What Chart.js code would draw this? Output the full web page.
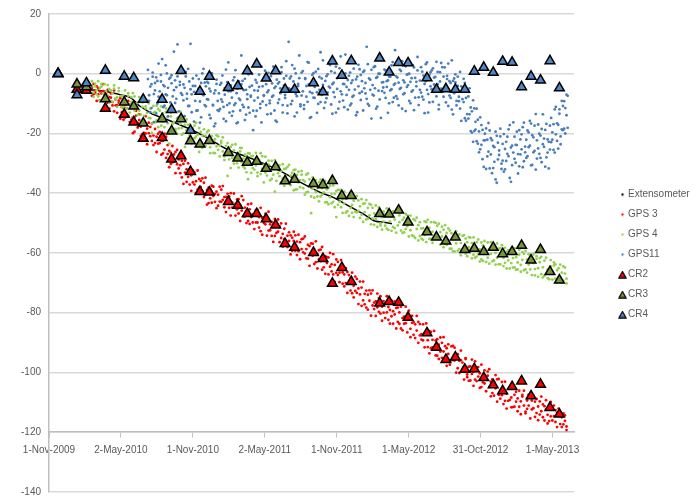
<!DOCTYPE html>
<html>
<head>
<meta charset="utf-8">
<script src="https://cdn.jsdelivr.net/npm/chart.js@4.4.1/dist/chart.umd.min.js"></script>
<style>
html,body{margin:0;padding:0;background:#ffffff;}
#wrap{width:699px;height:499px;position:relative;}
</style>
</head>
<body>
<div id="wrap"><canvas id="c" width="699" height="499"></canvas></div>
<script>
// x values are days counted from 1-Nov-2009
const xTickDays = [0, 182.5, 365, 547.5, 730, 912.5, 1095, 1277.5];
const xTickLabels = ['1-Nov-2009','2-May-2010','1-Nov-2010','2-May-2011','1-Nov-2011','1-May-2012','31-Oct-2012','1-May-2013'];

const seriesNames = ['Extensometer','GPS 3','GPS 4','GPS11','CR2','CR3','CR4'];

// Extensometer
const extDays = [104,129,155,180,205,218,230,245,264,299,350,401,452,518,586,637,688,721,764,797,827,853,870];
const extVals = [-5.4,-5.6,-6.2,-7.0,-7.9,-9.2,-10.8,-12.0,-13.6,-15.3,-18.1,-21.4,-25.3,-28.6,-32.5,-36.3,-39.7,-41.4,-44.5,-46.9,-49.3,-49.8,-50.2];

// GPS 3 and GPS 4 sample days
const gpsDays = [
109,113,117,121,125,129,133,137,141,145,
149,153,157,161,165,169,173,177,181,185,
189,193,197,201,205,209,213,217,221,225,
229,233,237,241,245,249,253,257,261,265,
269,273,277,281,285,289,293,297,301,305,
309,313,317,321,325,329,333,337,341,345,
349,353,357,361,365,369,373,377,381,385,
389,393,397,401,405,409,413,417,421,425,
429,433,437,441,445,449,453,457,461,465,
469,473,477,481,485,489,493,497,501,505,
509,513,517,521,525,529,533,537,541,545,
549,553,557,561,565,569,573,577,581,585,
589,593,597,601,605,609,613,617,621,625,
629,633,637,641,645,649,653,657,661,665,
669,673,677,681,685,689,693,697,701,705,
709,713,717,721,725,729,733,737,741,745,
749,753,757,761,765,769,773,777,781,785,
789,793,797,801,805,809,813,817,821,825,
829,833,837,841,845,849,853,857,861,865,
869,873,877,881,885,889,893,897,901,905,
909,913,917,921,925,929,933,937,941,945,
949,953,957,961,965,969,973,977,981,985,
989,993,997,1001,1005,1009,1013,1017,1021,1025,
1029,1033,1037,1041,1045,1049,1053,1057,1061,1065,
1069,1073,1077,1081,1085,1089,1093,1097,1101,1105,
1109,1113,1117,1121,1125,1129,1133,1137,1141,1145,
1149,1153,1157,1161,1165,1169,1173,1177,1181,1185,
1189,1193,1197,1201,1205,1209,1213,1217,1221,1225,
1229,1233,1237,1241,1245,1249,1253,1257,1261,1265,
1269,1273,1277,1281,1285,1289,1293,1297,1301,1305,
1309,1313];

// GPS 3, two readings per sample day
const gps3Vals = [
-4.7,-6.9,-5.6,-4.2,-6.9,-8.9,-6.6,-5.8,-8.0,-6.9,
-9.7,-7.8,-6.6,-9.5,-12.6,-8.6,-10.5,-9.7,-8.2,-12.9,
-11.4,-14.7,-11.5,-14.1,-10.2,-15.4,-14.6,-19.4,-14.0,-16.5,
-15.5,-17.7,-20.2,-16.0,-20.0,-18.4,-16.4,-20.9,-22.5,-20.7,
-23.2,-21.1,-20.1,-23.2,-27.1,-22.5,-25.4,-21.1,-26.9,-25.8,
-26.4,-29.7,-27.0,-26.2,-30.3,-31.7,-30.6,-34.7,-30.2,-33.1,
-32.0,-34.5,-37.1,-34.0,-32.4,-37.1,-36.0,-38.8,-35.2,-38.0,
-39.2,-36.5,-40.5,-38.9,-43.3,-38.8,-37.5,-40.9,-42.9,-39.5,
-40.5,-42.8,-38.8,-42.2,-44.7,-41.2,-43.4,-41.1,-47.5,-43.2,
-44.9,-43.6,-42.1,-46.8,-44.2,-45.8,-42.3,-47.8,-46.3,-49.3,
-45.4,-48.0,-49.8,-47.5,-45.7,-49.8,-48.0,-52.7,-48.3,-49.9,
-50.4,-48.4,-52.5,-50.4,-54.3,-50.5,-48.6,-53.3,-52.9,-51.1,
-55.0,-53.6,-51.9,-56.9,-54.2,-56.0,-54.1,-59.3,-56.0,-54.1,
-56.2,-59.4,-56.4,-58.7,-55.2,-60.2,-58.7,-61.9,-57.7,-60.1,
-60.9,-58.9,-63.1,-60.4,-59.1,-62.7,-65.6,-61.3,-61.1,-63.4,
-61.5,-64.6,-63.8,-67.2,-64.0,-62.2,-67.4,-66.6,-64.9,-70.3,
-67.2,-70.1,-66.4,-69.9,-68.6,-73.5,-71.0,-67.9,-73.4,-71.9,
-73.9,-71.6,-75.9,-73.7,-78.3,-74.0,-76.0,-73.6,-77.6,-76.6,
-76.2,-78.2,-75.1,-80.3,-78.0,-80.0,-76.9,-79.9,-82.4,-79.1,
-81.2,-79.5,-80.6,-78.4,-83.1,-79.9,-85.3,-81.8,-81.3,-83.5,
-82.4,-81.1,-85.4,-83.4,-87.4,-83.9,-86.0,-83.1,-87.6,-87.2,
-89.3,-87.4,-86.5,-89.2,-86.2,-91.9,-89.1,-91.5,-89.3,-94.4,
-90.7,-93.0,-90.1,-93.0,-95.7,-91.9,-93.8,-96.1,-91.3,-95.8,
-96.0,-94.1,-98.6,-96.1,-95.9,-98.9,-98.0,-95.5,-101.6,-98.1,
-98.0,-100.5,-99.8,-102.4,-98.2,-101.4,-100.3,-104.9,-101.4,-103.7,
-102.3,-101.1,-104.9,-103.1,-106.9,-103.1,-105.3,-102.3,-107.5,-106.0,
-107.6,-105.8,-109.5,-107.1,-105.5,-109.2,-108.4,-111.6,-107.5,-109.8,
-108.7,-111.5,-109.7,-108.1,-111.1,-113.1,-109.4,-111.1,-108.5,-112.4,
-112.0,-109.8,-113.6,-111.4,-109.7,-113.0,-115.0,-111.3,-112.4,-114.2,
-112.2,-114.7,-111.9,-114.6,-116.6,-113.5,-114.7,-117.3,-115.0,-117.4,
-116.2,-118.1];
const gps3ValsB = [
-7.4,-3.4,-6.3,-9.1,-4.8,-5.9,-8.9,-3.5,-6.2,-8.6,
-5.4,-11.7,-8.0,-10.6,-5.6,-10.6,-13.1,-9.0,-15.1,-11.2,
-15.4,-10.5,-13.5,-9.1,-16.2,-11.5,-19.9,-14.5,-12.4,-18.0,
-13.6,-20.8,-16.6,-19.8,-14.2,-23.6,-19.9,-17.8,-16.7,-23.9,
-18.5,-26.2,-23.4,-19.5,-22.4,-26.7,-20.1,-28.2,-23.9,-31.3,
-30.2,-24.2,-29.4,-33.3,-25.5,-28.7,-33.3,-29.1,-36.9,-29.1,
-36.2,-30.0,-32.8,-39.2,-36.4,-33.0,-40.0,-32.4,-38.1,-35.9,
-35.0,-41.3,-34.8,-43.8,-38.1,-41.7,-43.2,-37.8,-40.2,-45.0,
-44.2,-37.8,-42.9,-37.6,-41.3,-46.3,-40.2,-44.9,-40.0,-44.8,
-40.1,-47.5,-45.4,-42.0,-49.3,-41.0,-47.8,-44.8,-50.0,-43.7,
-50.3,-43.5,-47.0,-52.0,-49.8,-45.6,-51.5,-44.9,-53.9,-48.0,
-46.9,-54.2,-46.2,-52.4,-49.6,-56.3,-54.3,-49.9,-48.8,-56.4,
-50.1,-57.9,-55.4,-50.2,-58.0,-53.1,-60.5,-54.9,-52.9,-59.3,
-60.7,-53.9,-62.1,-55.4,-59.8,-54.5,-61.8,-57.3,-64.3,-56.8,
-56.9,-63.7,-56.1,-65.2,-62.1,-58.9,-58.0,-64.8,-67.0,-61.4,
-67.2,-60.0,-66.2,-60.4,-69.7,-66.7,-63.0,-69.8,-62.4,-66.5,
-71.2,-65.1,-73.4,-67.4,-72.6,-66.6,-74.9,-72.7,-68.7,-77.1,
-69.6,-77.7,-69.6,-77.2,-72.6,-79.0,-72.5,-81.0,-72.5,-78.8,
-81.1,-73.6,-79.7,-74.5,-82.7,-76.1,-81.8,-74.5,-78.1,-83.7,
-76.0,-83.7,-76.2,-85.3,-78.3,-83.7,-78.0,-85.9,-83.7,-78.0,
-86.6,-79.3,-88.2,-81.1,-83.2,-88.5,-81.1,-90.1,-83.8,-89.0,
-83.9,-91.6,-83.6,-91.5,-93.6,-86.4,-91.6,-86.1,-94.3,-88.9,
-95.5,-88.3,-95.1,-88.2,-91.2,-97.8,-90.6,-97.4,-95.9,-91.1,
-91.7,-100.1,-93.9,-100.2,-92.7,-96.7,-102.4,-95.2,-100.7,-102.8,
-102.7,-95.7,-104.5,-96.3,-102.9,-98.2,-105.2,-97.4,-103.3,-99.3,
-106.3,-99.7,-98.9,-108.0,-102.3,-107.8,-100.9,-109.8,-102.2,-108.8,
-103.2,-110.6,-103.1,-112.1,-109.5,-104.9,-111.7,-104.4,-111.5,-106.5,
-113.0,-106.1,-114.0,-107.5,-106.1,-113.7,-112.2,-107.4,-115.4,-109.4,
-107.8,-114.9,-108.9,-116.0,-114.1,-108.1,-110.7,-116.1,-109.3,-117.1,
-116.3,-109.9,-116.1,-111.1,-112.6,-118.3,-112.1,-114.2,-118.3,-113.7,
-114.4,-119.3];

// GPS 4, two readings per sample day
const gps4Vals = [
-4.1,-6.2,-3.3,-5.5,-7.6,-4.7,-3.4,-6.7,-7.7,-6.0,
-7.3,-5.1,-9.2,-6.6,-5.0,-8.5,-7.9,-4.8,-9.9,-7.5,
-7.3,-9.0,-11.6,-7.4,-10.3,-9.4,-14.5,-7.6,-11.6,-9.8,
-12.3,-9.2,-11.1,-14.1,-10.9,-13.1,-9.9,-14.9,-19.8,-13.1,
-12.8,-15.6,-11.8,-14.8,-17.4,-13.3,-14.9,-11.6,-16.6,-23.4,
-14.3,-16.9,-16.1,-19.2,-14.9,-18.3,-12.7,-18.2,-20.0,-17.1,
-18.9,-17.1,-20.6,-18.7,-22.9,-17.4,-21.1,-20.4,-26.2,-19.5,
-20.7,-23.7,-20.8,-19.5,-23.2,-24.6,-22.8,-26.5,-21.9,-24.3,
-25.5,-24.1,-22.5,-26.0,-27.7,-24.2,-34.2,-26.0,-24.5,-28.2,
-25.7,-27.8,-30.0,-26.9,-24.8,-29.6,-28.4,-31.7,-27.5,-35.3,
-29.3,-27.7,-31.6,-29.3,-30.7,-33.1,-28.9,-26.6,-31.9,-30.5,
-33.1,-31.0,-29.1,-32.5,-35.2,-31.2,-39.5,-31.8,-30.6,-34.3,
-32.6,-35.0,-31.9,-34.2,-31.2,-36.7,-34.1,-35.8,-32.3,-38.8,
-33.9,-36.4,-35.7,-33.8,-38.3,-36.1,-39.7,-33.4,-37.8,-46.7,
-38.5,-36.4,-39.6,-38.2,-36.3,-41.1,-38.3,-39.7,-43.1,-38.7,
-38.1,-41.4,-40.2,-42.9,-40.2,-48.0,-38.9,-42.8,-44.7,-42.0,
-43.5,-41.9,-46.0,-41.0,-44.9,-43.9,-42.5,-46.2,-40.9,-45.9,
-44.4,-47.2,-43.6,-46.3,-48.8,-44.9,-47.4,-43.9,-48.5,-46.8,
-48.7,-46.9,-45.5,-50.1,-48.0,-49.5,-47.1,-51.9,-46.0,-49.5,
-47.7,-51.3,-48.8,-46.2,-50.8,-49.7,-52.5,-48.9,-48.2,-52.0,
-51.1,-48.9,-52.4,-50.5,-54.4,-49.1,-52.0,-50.7,-54.3,-51.8,
-51.7,-54.0,-49.7,-53.3,-51.6,-55.3,-52.9,-49.7,-54.4,-53.8,
-55.4,-53.0,-54.5,-52.2,-56.8,-53.3,-55.7,-52.5,-58.6,-55.4,
-54.9,-56.8,-54.2,-58.7,-56.7,-54.3,-58.8,-60.3,-56.4,-58.1,
-59.1,-56.7,-60.6,-58.1,-56.4,-60.2,-58.8,-62.2,-57.5,-60.1,
-58.9,-61.6,-58.7,-60.3,-57.4,-62.5,-60.0,-61.6,-58.6,-63.8,
-59.8,-61.6,-63.3,-59.6,-62.5,-59.1,-63.4,-61.7,-64.8,-61.4,
-63.2,-60.6,-64.0,-62.3,-60.3,-65.5,-62.2,-63.9,-65.5,-62.1,
-63.4,-65.4,-62.0,-65.1,-63.1,-67.1,-64.8,-62.6,-67.0,-65.6,
-66.7,-64.5,-66.3,-64.2,-68.6,-65.8,-65.1,-68.4,-66.6,-69.3,
-66.9,-68.6];
const gps4ValsB = [
-2.5,-7.7,-4.2,-6.9,-2.5,-9.0,-4.3,-6.6,-3.5,-8.6,
-3.8,-9.7,-5.6,-9.4,-3.9,-8.2,-11.1,-5.8,-7.5,-11.1,
-11.3,-5.6,-10.3,-6.5,-13.0,-7.8,-6.5,-12.3,-9.9,-13.8,
-7.8,-13.7,-9.6,-15.6,-11.6,-9.0,-14.8,-11.7,-16.6,-10.8,
-16.3,-10.7,-17.9,-12.4,-10.9,-16.0,-17.9,-12.8,-14.4,-19.0,
-13.0,-19.6,-12.6,-18.5,-20.1,-15.1,-16.8,-20.4,-14.6,-24.5,
-15.3,-21.6,-17.0,-23.3,-18.3,-21.6,-16.5,-23.7,-18.2,-23.1,
-24.8,-18.6,-24.2,-23.1,-19.0,-26.6,-20.9,-22.5,-26.6,-20.6,
-21.0,-27.7,-23.2,-21.3,-28.9,-26.8,-23.2,-28.7,-31.6,-23.8,
-30.1,-23.6,-28.5,-31.4,-26.0,-24.9,-31.1,-27.1,-33.0,-26.6,
-26.7,-33.2,-27.5,-32.1,-26.5,-34.3,-29.7,-33.6,-27.6,-36.4,
-27.8,-34.1,-30.4,-35.7,-29.2,-33.8,-28.9,-35.9,-33.3,-30.7,
-36.4,-30.3,-37.5,-31.8,-35.4,-30.5,-37.3,-33.2,-39.0,-32.1,
-38.7,-32.8,-38.0,-32.6,-35.6,-40.5,-33.8,-39.6,-35.4,-41.1,
-34.7,-41.5,-35.6,-41.1,-42.7,-35.5,-40.5,-36.6,-35.9,-43.0,
-43.7,-37.5,-43.4,-37.4,-44.7,-39.3,-43.9,-38.9,-41.3,-46.6,
-39.5,-46.5,-41.5,-47.6,-40.6,-46.6,-48.0,-41.6,-46.4,-42.4,
-48.3,-42.0,-49.6,-43.4,-42.3,-48.5,-43.6,-50.4,-44.9,-50.6,
-44.1,-51.3,-44.7,-50.8,-52.2,-46.1,-50.9,-45.1,-52.3,-46.2,
-52.6,-46.1,-51.7,-53.2,-45.9,-47.4,-46.4,-53.3,-53.1,-46.9,
-47.4,-54.5,-47.5,-54.1,-48.7,-55.0,-48.2,-55.8,-49.7,-55.2,
-55.6,-49.4,-56.4,-48.9,-55.3,-49.7,-56.6,-55.2,-49.9,-50.9,
-50.2,-57.2,-51.2,-58.1,-50.7,-57.3,-51.8,-58.6,-53.4,-59.5,
-59.5,-52.8,-59.3,-53.8,-60.8,-59.3,-54.0,-55.2,-61.1,-54.7,
-54.9,-61.8,-54.8,-61.6,-61.2,-55.5,-62.9,-56.5,-62.7,-56.0,
-63.0,-56.5,-63.6,-56.4,-62.8,-57.4,-63.9,-56.8,-63.8,-58.4,
-57.4,-64.4,-58.3,-65.2,-59.1,-65.2,-58.5,-64.9,-58.4,-65.6,
-65.5,-59.0,-66.3,-59.7,-65.8,-59.3,-66.6,-60.4,-61.2,-67.4,
-60.5,-67.5,-61.1,-68.0,-61.7,-61.3,-68.2,-67.6,-61.6,-68.4,
-68.8,-62.4,-68.9,-63.2,-63.8,-69.9,-69.3,-63.9,-70.0,-64.5,
-64.9,-70.2];

// GPS11 sample days
const gps11Days = [
251,254,257,260,263,266,269,272,275,278,
281,284,287,290,293,296,299,302,305,308,
311,314,317,320,323,326,329,332,335,338,
341,344,347,350,353,356,359,362,365,368,
371,374,377,380,383,386,389,392,395,398,
401,404,407,410,413,416,419,422,425,428,
431,434,437,440,443,446,449,452,455,458,
461,464,467,470,473,476,479,482,485,488,
491,494,497,500,503,506,509,512,515,518,
521,524,527,530,533,536,539,542,545,548,
551,554,557,560,563,566,569,572,575,578,
581,584,587,590,593,596,599,602,605,608,
611,614,617,620,623,626,629,632,635,638,
641,644,647,650,653,656,659,662,665,668,
671,674,677,680,683,686,689,692,695,698,
701,704,707,710,713,716,719,722,725,728,
731,734,737,740,743,746,749,752,755,758,
761,764,767,770,773,776,779,782,785,788,
791,794,797,800,803,806,809,812,815,818,
821,824,827,830,833,836,839,842,845,848,
851,854,857,860,863,866,869,872,875,878,
881,884,887,890,893,896,899,902,905,908,
911,914,917,920,923,926,929,932,935,938,
941,944,947,950,953,956,959,962,965,968,
971,974,977,980,983,986,989,992,995,998,
1001,1004,1007,1010,1013,1016,1019,1022,1025,1028,
1031,1034,1037,1040,1043,1046,1049,1052,1055,1058,
1061,1064,1067,1070,1073,1076,1079,1082,1085,1088,
1091,1094,1097,1100,1103,1106,1109,1112,1115,1118,
1121,1124,1127,1130,1133,1136,1139,1142,1145,1148,
1151,1154,1157,1160,1163,1166,1169,1172,1175,1178,
1181,1184,1187,1190,1193,1196,1199,1202,1205,1208,
1211,1214,1217,1220,1223,1226,1229,1232,1235,1238,
1241,1244,1247,1250,1253,1256,1259,1262,1265,1268,
1271,1274,1277,1280,1283,1286,1289,1292,1295,1298,
1301,1304,1307,1310,1313,1316];

// GPS11, two readings per sample day
const gps11Vals = [
-1.8,-9.1,-4.3,-11.5,0.4,-6.8,-3.1,-13.3,-2.4,-7.7,
-5.9,-0.4,-8.3,-3.8,-10.7,2.8,-7.2,-4.7,-12.1,-1.3,
-3.2,-7.6,7.4,-9.8,-4.5,-0.9,-14.6,-2.7,-6.5,0.9,
-8.9,-4.7,0.6,-6.7,-10.8,-2.6,10.0,-12.9,-4.1,-6.1,
-4.1,-12.4,-6.3,-1.8,-9.3,-14.6,0.1,-7.2,-3.0,-10.9,
-8.5,-3.1,-13.8,-5.9,0.2,-10.6,-6.6,-16.7,-2.0,-9.1,
-6.6,-11.8,-3.1,-9.4,-15.1,-4.8,1.4,-10.5,-5.9,-13.0,
-3.9,-8.0,-12.6,-1.2,-9.9,-6.5,-16.3,-2.6,-8.8,6.1,
-10.4,-5.5,-1.7,-13.7,-6.9,-11.3,-4.4,-7.7,0.0,-12.4,
-5.6,-14.3,-3.0,-8.0,-4.4,-11.5,2.4,-9.3,-7.4,-1.4,
-10.5,-6.2,0.3,-9.0,-13.4,-3.2,-7.3,-4.8,-15.7,-2.0,
-3.3,-8.6,-4.9,2.2,-10.5,-4.0,-7.1,-0.7,-13.3,10.7,
-5.2,-0.9,-9.1,-2.6,1.7,-6.8,-13.0,-4.1,-1.5,-10.3,
0.4,-5.9,-10.5,-1.8,-7.7,3.9,-3.6,-14.8,-3.2,-6.5,
-8.0,-4.4,0.7,-6.2,-10.1,-1.1,7.2,-7.1,-3.7,-11.5,
-2.4,-8.2,-0.2,-4.3,2.9,-10.3,-3.5,-6.2,0.3,-13.0,
-5.1,-1.2,-9.4,5.8,-6.9,-3.4,-11.2,0.1,-4.4,-2.1,
-0.7,-10.6,-3.1,-7.7,1.7,-5.3,-1.9,-12.9,3.0,-6.5,
-8.8,-2.5,0.6,-4.9,-6.6,9.0,-10.1,-1.6,-5.4,1.3,
-3.8,-7.3,2.5,-11.7,-1.1,-5.7,0.0,-14.8,-2.9,-4.6,
-6.4,1.1,-4.4,-2.2,-9.9,-1.0,-5.2,3.9,-8.0,-3.3,
-0.9,-8.4,-3.0,-5.1,0.9,-11.7,-2.2,-6.5,2.5,-4.4,
-3.8,0.0,-9.9,-1.5,-5.6,2.1,-8.0,-2.7,5.6,-10.5,
-2.3,-6.3,0.7,-8.7,-3.4,3.2,-5.4,-13.0,-0.4,-4.2,
-5.2,1.8,-3.6,-1.1,-7.6,0.6,-10.4,-2.6,3.6,-6.1,
-1.0,-5.4,-9.6,-1.8,3.4,-7.3,-3.1,-12.0,-2.4,-6.5,
-2.9,-9.1,-1.0,-7.7,-11.7,-4.2,-8.5,-1.7,-14.9,-8.1,
-13.5,-7.6,-13.6,-11.3,-19.7,-8.9,-19.2,-16.1,-22.6,-15.4,
-19.3,-25.3,-17.2,-28.6,-22.3,-20.1,-31.9,-22.1,-26.1,-19.0,
-27.0,-22.3,-31.6,-24.6,-35.4,-20.8,-28.7,-25.7,-18.4,-30.1,
-23.5,-32.8,-25.2,-29.2,-21.1,-27.6,-17.2,-36.2,-24.1,-26.4,
-28.5,-23.8,-19.4,-26.9,-31.0,-22.0,-25.3,-17.9,-29.3,-24.4,
-22.1,-27.6,-19.6,-24.1,-16.7,-30.5,-21.3,-25.8,-13.5,-28.4,
-25.0,-20.1,-28.2,-18.5,-23.6,-21.7,-31.1,-16.8,-26.4,-22.8,
-17.4,-22.9,-19.6,-25.5,-11.9,-20.3,-16.6,-25.1,-13.4,-21.0,
-18.6,-10.8,-18.4,-11.5,-7.0,-18.1];
const gps11ValsB = [
1.3,-7.2,-12.9,-3.5,-1.0,-16.2,-5.6,-1.2,-10.0,3.4,
-8.9,-2.6,4.9,-11.2,-4.2,-6.9,0.1,-14.3,-1.7,-9.6,
-0.5,-11.9,-5.5,-2.2,-8.4,9.8,-12.6,-3.8,0.6,-7.1,
-3.6,-14.2,-0.9,-8.4,1.6,-10.8,-5.2,-6.9,-1.6,-16.0,
-9.1,-0.6,-12.3,-4.9,-16.4,-3.1,-6.9,1.6,-10.5,-4.2,
-2.7,-8.7,-5.0,-14.9,-0.5,-10.4,-17.6,-5.6,-3.4,-12.2,
-12.5,-3.7,-8.6,-0.6,-11.1,-7.0,-15.9,-2.8,3.8,-9.9,
-5.9,-14.1,-2.2,-10.5,1.2,-16.6,-5.0,-8.3,-12.3,-3.6,
-2.4,-11.2,-15.5,-5.4,-8.5,-0.2,-13.1,-7.3,-4.0,-18.9,
-9.0,-2.1,-12.4,-5.7,-0.3,-10.1,-16.3,-4.2,-7.2,1.0,
-3.5,-13.6,-5.6,-9.9,-0.8,-7.7,2.4,-12.3,-4.3,-16.1,
-9.8,-2.8,-6.5,0.5,-13.0,-1.6,-8.1,4.2,-10.7,-4.9,
-1.6,-10.2,2.9,-6.0,-14.3,0.1,-7.5,-3.4,6.1,-10.9,
-7.3,0.9,-11.8,-1.5,-4.1,-9.4,3.7,-6.1,-14.5,-0.4,
0.2,-8.1,-2.8,-13.1,1.6,-5.4,-9.5,-1.6,4.5,-6.6,
-9.6,-0.8,-6.3,3.6,-4.7,0.8,-13.4,-3.0,-7.8,2.4,
-1.5,-11.7,1.8,-5.9,-0.3,-9.0,-3.5,6.4,-7.1,-12.0,
-5.4,0.4,-10.0,-2.2,-7.3,3.9,-13.9,-1.0,-4.2,1.5,
-0.4,-6.0,-12.3,1.0,-3.1,-8.4,3.2,-10.7,-2.0,-15.0,
-7.0,2.2,-4.9,-1.4,-11.0,0.0,-8.6,4.8,-5.8,-2.8,
1.4,-8.1,-2.5,-13.1,-1.0,-5.6,2.8,-9.5,-3.7,7.9,
-7.5,-1.3,-10.6,1.4,-4.7,4.2,-6.9,-2.9,-12.5,-0.3,
-0.1,-9.1,-2.7,-6.0,2.9,-12.2,-1.4,-4.2,1.1,-7.9,
-5.4,2.2,-7.7,-0.6,-13.2,-2.5,3.8,-6.8,-9.6,0.5,
1.1,-9.4,-1.3,-6.1,4.0,-3.5,-11.9,0.5,-5.0,2.2,
-7.7,2.1,-4.9,-0.7,-10.8,-2.5,-8.1,4.5,-13.6,-1.6,
-0.2,-10.6,-4.1,-9.2,0.6,-15.8,-4.6,-9.5,-3.1,-15.7,
-5.8,-15.0,-4.9,-19.2,-12.6,-22.8,-11.6,-18.7,-11.7,-23.4,
-26.3,-14.6,-23.8,-18.8,-31.2,-22.3,-18.3,-27.7,-16.5,-31.7,
-21.6,-33.3,-24.2,-29.5,-19.4,-36.5,-23.1,-27.2,-21.0,-31.9,
-29.1,-20.2,-32.0,-22.8,-26.8,-18.6,-34.9,-24.7,-30.6,-16.3,
-21.1,-29.8,-23.9,-33.4,-18.9,-27.0,-20.3,-31.3,-16.4,-26.3,
-28.2,-19.0,-24.6,-15.8,-30.7,-20.6,-26.3,-17.4,-32.1,-22.3,
-17.0,-26.8,-20.7,-29.6,-13.6,-24.5,-18.8,-28.0,-22.0,-31.7,
-25.4,-14.8,-22.1,-16.9,-26.4,-11.1,-22.5,-17.1,-11.9,-23.6,
-9.1,-18.9,-9.2,-20.0,-13.9,-7.4];

// Corner reflector acquisition days
const crDays = [23,71,95,143,191,215,239,287,311,335,359,383,407,455,479,503,527,551,575,599,623,671,695,719,743,767,839,863,887,911,959,983,1007,1031,1055,1079,1103,1127,1151,1175,1199,1223,1247,1271,1295];
const cr2Vals = [0,-5.3,-5.6,-11.6,-13.6,-16.2,-21.7,-21.4,-28.6,-27.5,-32.8,-39.5,-39.7,-42.8,-44.1,-46.9,-46.9,-48.6,-50.7,-56.9,-58.2,-59.9,-61.9,-70.2,-64.9,-69.6,-76.8,-76.3,-76.6,-81.6,-86.8,-91.6,-95.7,-94.9,-99.0,-98.8,-101.8,-104.2,-106.2,-104.8,-102.9,-107.9,-104.0,-111.8,-114.0];
const cr3Vals = [0,-3.5,-4.4,-8.4,-9.5,-10.9,-16.6,-15.1,-19.2,-15.1,-22.5,-23.6,-22.4,-26.4,-28.3,-29.7,-29.4,-31.7,-31.2,-35.9,-35.4,-36.8,-37.2,-35.8,-40.8,-40.8,-46.9,-47.0,-45.7,-49.7,-53.0,-54.7,-56.1,-54.7,-58.9,-58.5,-59.6,-58.2,-60.3,-59.6,-57.5,-62.4,-58.9,-66.3,-69.1];
const cr4Vals = [0,-7.1,-3.1,1.1,-0.9,-1.4,-8.6,-8.6,-12.0,1.0,-19.0,-5.9,-0.9,-4.7,-4.1,0.9,3.2,-1.5,0.9,-5.3,-5.3,-3.1,-6.1,4.2,-0.6,4.3,5.2,0.5,3.7,3.6,-1.4,-5.3,-5.1,-5.3,-5.3,0.8,2.1,0.4,4.1,3.8,-4.4,-0.9,-2.2,4.3,-4.8];

// ---------- rendering ----------
function pts(xs, ys) { return xs.map((x, i) => ({ x: x, y: ys[i] })); }

const RED = '#ff0000', LGREEN = '#92d050', BLUE = '#4a7ebb', OLIVE = '#77933c', TBLUE = '#4f86c8';

function dotIcon(color) {
  const c = document.createElement('canvas'); c.width = 4; c.height = 4;
  const g = c.getContext('2d'); g.fillStyle = color; g.beginPath(); g.arc(2, 2, 1.2, 0, Math.PI * 2); g.fill();
  return c;
}
function triIcon(color) {
  const c = document.createElement('canvas'); c.width = 9; c.height = 8;
  const g = c.getContext('2d'); g.beginPath(); g.moveTo(4.5, 1); g.lineTo(8, 7.2); g.lineTo(1, 7.2); g.closePath();
  g.fillStyle = color; g.fill(); g.lineWidth = 1.2; g.strokeStyle = '#000'; g.stroke();
  return c;
}
const legendIcons = [dotIcon('#000'), dotIcon(RED), dotIcon(LGREEN), dotIcon(BLUE), triIcon(RED), triIcon(OLIVE), triIcon(TBLUE)];

Chart.defaults.font.family = "'Liberation Sans', Arial, sans-serif";
Chart.defaults.font.size = 10;
Chart.defaults.color = '#595959';

const legendPlacer = {
  id: 'legendPlacer',
  beforeLayout(chart) {
    const lg = chart.legend;
    if (lg && !lg._patched) {
      const f = lg.fit.bind(lg);
      lg.fit = function () { f(); this.width = 125; };
      lg._patched = true;
    }
  },
  afterLayout(chart) {
    const lg = chart.legend;
    if (lg) { lg.left = 612; }
  }
};

const dotStyle = (color) => ({ backgroundColor: color, borderWidth: 0, pointRadius: 1.4, pointHoverRadius: 1.4, pointStyle: 'circle' });
const triStyle = (color) => ({ backgroundColor: color, borderColor: '#000', borderWidth: 1.5, pointRadius: 5.6, pointHoverRadius: 5.6, pointStyle: 'triangle' });

new Chart(document.getElementById('c'), {
  type: 'scatter',
  data: {
    datasets: [
      { label: seriesNames[0], data: pts(extDays, extVals), showLine: true, borderColor: '#000', borderWidth: 1.5, pointRadius: 0, tension: 0.3, order: 8 },
      Object.assign({ label: seriesNames[1], data: pts(gpsDays, gps3Vals).concat(pts(gpsDays, gps3ValsB)), order: 7 }, dotStyle(RED)),
      Object.assign({ label: seriesNames[2], data: pts(gpsDays, gps4Vals).concat(pts(gpsDays, gps4ValsB)), order: 6 }, dotStyle(LGREEN)),
      Object.assign({ label: seriesNames[3], data: pts(gps11Days, gps11Vals).concat(pts(gps11Days, gps11ValsB)), order: 5 }, dotStyle(BLUE)),
      Object.assign({ label: seriesNames[4], data: pts(crDays, cr2Vals), order: 3 }, triStyle(RED)),
      Object.assign({ label: seriesNames[5], data: pts(crDays, cr3Vals), order: 2 }, triStyle(OLIVE)),
      Object.assign({ label: seriesNames[6], data: pts(crDays, cr4Vals), order: 1 }, triStyle(TBLUE))
    ]
  },
  options: {
    responsive: false,
    animation: false,
    devicePixelRatio: 1,
    events: [],
    layout: { padding: { top: 14, bottom: 4, left: 0, right: 0 } },
    plugins: {
      tooltip: { enabled: false },
      legend: {
        position: 'right',
        labels: {
          usePointStyle: true,
          boxWidth: 1,
          boxHeight: 10,
          padding: 10,
          color: '#595959',
          font: { size: 10 },
          generateLabels(chart) {
            return chart.data.datasets.map((ds, i) => ({
              text: ds.label, pointStyle: legendIcons[i], fillStyle: '#000', strokeStyle: '#000',
              lineWidth: 0, hidden: false, datasetIndex: i, fontColor: '#595959'
            }));
          }
        }
      }
    },
    scales: {
      x: {
        type: 'linear',
        min: 0,
        max: 1332,
        position: { y: -120 },
        afterBuildTicks(axis) { axis.ticks = xTickDays.map(v => ({ value: v })); },
        ticks: {
          autoSkip: false, maxRotation: 0, minRotation: 0, padding: 7,
          callback(value, index) { return xTickLabels[index]; }
        },
        grid: { drawOnChartArea: false, drawTicks: true, tickLength: 5, color: '#bfbfbf', lineWidth: 1 },
        border: { display: true, color: '#bfbfbf', width: 1.5 }
      },
      y: {
        min: -140,
        max: 20,
        ticks: { stepSize: 20, padding: 8 },
        grid: { color: '#d9d9d9', lineWidth: 1.5, drawTicks: false },
        border: { display: true, color: '#bfbfbf', width: 1.5 },
        afterFit(scale) { scale.width = 49; scale.paddingTop = 0; scale.paddingBottom = 0; }
      }
    }
  },
  plugins: [legendPlacer]
});
</script>
</body>
</html>
